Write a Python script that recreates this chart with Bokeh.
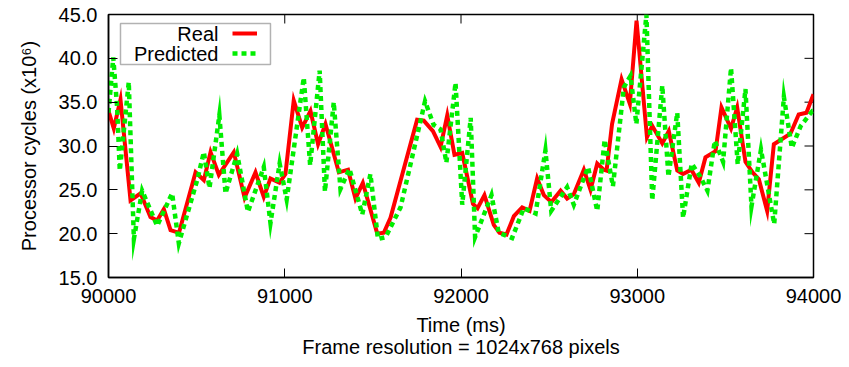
import math
from bokeh.plotting import figure
from bokeh.models import (Range1d, FixedTicker, PrintfTickFormatter,
                          Legend, LegendItem, BoxAnnotation, Label, Title)
from bokeh.embed import file_html
from bokeh.resources import INLINE

# ---- data ----
real_t = [90000, 90030, 90068, 90125, 90182, 90238, 90276, 90314, 90352, 90400,
          90494, 90541, 90579, 90626, 90711, 90772, 90834, 90881, 90919, 90970,
          91004, 91051, 91099, 91146, 91189, 91231, 91307, 91359, 91401, 91443,
          91525, 91562, 91600, 91751, 91789, 91841, 91884, 91922, 91963, 92007,
          92068, 92094, 92133, 92186, 92218, 92258, 92300, 92347, 92389, 92432,
          92470, 92513, 92565, 92602, 92640, 92697, 92735, 92773, 92810, 92826,
          92857, 92911, 92958, 92996, 93055, 93085, 93142, 93179, 93227, 93260,
          93307, 93349, 93387, 93444, 93478, 93532, 93567, 93614, 93654, 93690,
          93737, 93775, 93822, 93869, 93916, 93960, 94000]
real_v = [34.0, 32.0, 35.3, 23.8, 24.6, 21.9, 21.5, 22.8, 20.4, 20.1,
          27.0, 26.1, 29.3, 26.7, 29.3, 24.1, 27.0, 24.2, 26.3, 25.8,
          26.8, 35.2, 32.1, 34.0, 30.2, 32.5, 27.0, 27.3, 24.0, 25.8,
          20.0, 20.1, 21.8, 33.0, 32.9, 31.7, 29.9, 33.5, 29.0, 29.2,
          23.4, 22.9, 24.4, 21.0, 20.1, 19.9, 22.0, 23.0, 22.6, 26.3,
          24.4, 23.6, 24.9, 24.0, 24.5, 27.3, 25.0, 28.0, 27.3, 27.2,
          32.5, 37.6, 34.8, 44.3, 31.0, 32.3, 30.3, 31.7, 27.2, 26.8,
          27.3, 25.8, 28.7, 29.4, 34.4, 32.0, 34.4, 28.2, 27.0, 26.2,
          22.6, 30.2, 30.8, 31.4, 33.6, 33.8, 35.9]

pred_t = [90000, 90027, 90049, 90064, 90115, 90144, 90191, 90276, 90361, 90399,
          90503, 90541, 90573, 90629, 90664, 90730, 90791, 90881, 90919, 90971,
          91011, 91108, 91144, 91198, 91228, 91278, 91316, 91367, 91440, 91486,
          91529, 91572, 91657, 91796, 91845, 91884, 91917, 91969, 92007, 92055,
          92080, 92173, 92214, 92290, 92356, 92423, 92479, 92512, 92602, 92640,
          92721, 92773, 92815, 92862, 92924, 92962, 92995, 93052, 93085, 93142,
          93177, 93227, 93260, 93309, 93358, 93398, 93440, 93487, 93532, 93570,
          93614, 93648, 93702, 93777, 93832, 93877, 93928, 93994, 94000]
pred_v = [33.8, 40.1, 34.4, 27.2, 37.3, 19.4, 24.9, 20.9, 24.6, 18.9,
          26.1, 29.3, 25.2, 33.5, 24.6, 29.1, 22.5, 27.6, 21.2, 28.0,
          23.9, 37.8, 27.8, 38.6, 24.8, 35.0, 25.1, 27.4, 22.2, 26.8,
          19.4, 19.6, 23.0, 35.1, 32.4, 31.9, 28.1, 37.2, 23.3, 33.2,
          19.6, 24.4, 20.1, 19.5, 22.9, 22.3, 29.5, 22.6, 25.3, 23.3,
          27.6, 22.6, 30.7, 25.4, 36.7, 38.0, 32.5, 45.0, 23.8, 36.9,
          26.5, 33.8, 21.8, 28.0, 26.5, 24.9, 30.6, 28.2, 38.9, 27.9,
          36.5, 23.1, 29.6, 21.1, 35.6, 29.8, 32.3, 34.0, 34.0]

x_ticks = [90000, 91000, 92000, 93000, 94000]
y_ticks = [15, 20, 25, 30, 35, 40, 45]
series_names = ["Real", "Predicted"]

FONT = "Liberation Sans"
FS = "20px"

x_min, x_max = x_ticks[0], x_ticks[-1]
y_min, y_max = y_ticks[0], y_ticks[-1]

p = figure(width=841, height=359, output_backend="svg", toolbar_location=None,
           title=None, x_range=Range1d(x_min, x_max), y_range=Range1d(y_min, y_max),
           min_border_left=108, min_border_right=28, min_border_top=14,
           min_border_bottom=82)
p.grid.visible = False
p.outline_line_color = "black"
p.outline_line_width = 1.5
p.background_fill_color = "white"
p.border_fill_color = "white"

# mirrored (inward) ticks on top and right edges
p.ray(x=x_ticks, y=[y_max] * len(x_ticks), length=9, length_units="screen",
      angle=-math.pi / 2, line_color="black", line_width=1)
p.ray(x=[x_max] * len(y_ticks), y=y_ticks, length=9, length_units="screen",
      angle=math.pi, line_color="black", line_width=1)

r_real = p.line(real_t, real_v, line_color="#ff0000", line_width=4,
                line_join="miter")
r_pred = p.line(pred_t, pred_v, line_color="#00ee00", line_width=4.5,
                line_dash="5 4", line_join="miter")


def style_axis(ax):
    ax.major_tick_in = 9
    ax.major_tick_out = 0
    ax.minor_tick_in = 0
    ax.minor_tick_out = 0
    ax.axis_line_color = "black"
    ax.axis_line_width = 1.5
    ax.major_tick_line_color = "black"
    ax.major_tick_line_width = 1
    ax.major_label_text_font = FONT
    ax.major_label_text_font_size = FS
    ax.major_label_text_color = "black"
    ax.axis_label_text_font = FONT
    ax.axis_label_text_font_size = FS
    ax.axis_label_text_font_style = "normal"
    ax.axis_label_text_color = "black"


xax = p.xaxis[0]
xax.ticker = FixedTicker(ticks=x_ticks)
xax.formatter = PrintfTickFormatter(format="%d")
style_axis(xax)
xax.major_label_standoff = 11
xax.axis_label = "Time (ms)"
xax.axis_label_standoff = 8

yax = p.yaxis[0]
yax.ticker = FixedTicker(ticks=y_ticks)
yax.formatter = PrintfTickFormatter(format="%.1f")
style_axis(yax)
yax.major_label_standoff = 11
yax.axis_label = "Processor cycles (x10\u2076)"
yax.axis_label_standoff = 16

# second line under the x-axis title
p.add_layout(Title(text="Frame resolution = 1024x768 pixels", align="center",
                   text_font=FONT, text_font_size=FS, text_font_style="normal",
                   text_color="black", standoff=-10, offset=0), "below")

# legend frame
p.add_layout(BoxAnnotation(left=90068, right=90919, top=43.97, bottom=39.30,
                           fill_color="white", fill_alpha=1.0,
                           line_color="black", line_width=1.5))

# legend samples (gnuplot style: text on the left, sample on the right)
legend = Legend(items=[LegendItem(label=" ", renderers=[r_real]),
                       LegendItem(label=" ", renderers=[r_pred])],
                location=(124, 214), glyph_width=25, glyph_height=20,
                label_height=20, label_standoff=0,
                label_text_font=FONT, label_text_font_size="10px",
                padding=0, spacing=0, margin=0,
                border_line_color=None, background_fill_alpha=0)
p.add_layout(legend)

for name, yv in zip(series_names, [42.83, 40.55]):
    p.add_layout(Label(x=90624, y=yv, text=name, text_align="right",
                       text_baseline="middle", text_font=FONT,
                       text_font_size=FS, text_color="black"))

open("out.html", "w").write(file_html(p, INLINE))
